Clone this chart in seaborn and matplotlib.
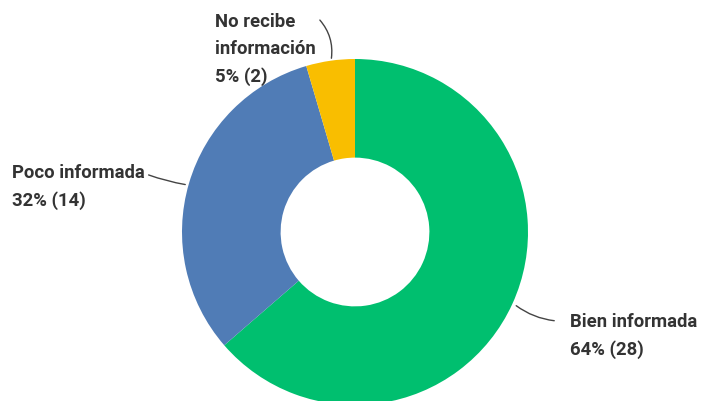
import matplotlib
matplotlib.use("Agg")
import matplotlib.pyplot as plt
import seaborn as sns

# datos
categorias = ["Bien informada", "Poco informada", "No recibe\ninformación"]
valores = [28, 14, 2]
porcentajes = ["64%", "32%", "5%"]
colores = ["#00BF6F", "#507CB6", "#F9BE00"]

sns.set_theme(style="white")
plt.rcParams['font.family'] = ['Roboto', 'DejaVu Sans']

fig = plt.figure(figsize=(7.02, 4.02), dpi=100)
ax = fig.add_axes([0, 0, 1, 1])

H = 402
cx, cy, r = 355, H - 233, 173
ax.pie(valores, colors=colores, startangle=90, counterclock=False,
       center=(cx, cy), radius=r,
       wedgeprops=dict(width=r * 0.57, linewidth=0))
ax.set_xlim(0, 702)
ax.set_ylim(0, H)
ax.set_aspect('equal')
ax.axis('off')

txt = dict(fontsize=13.3, fontweight='bold', color='#333333',
           ha='left', va='top', linespacing=1.65)
etiquetas = [c + "\n" + p + " (" + str(v) + ")" for c, p, v in zip(categorias, porcentajes, valores)]

# Bien informada
ax.text(570, H - 313, etiquetas[0], **txt)
ax.annotate('', xy=(514, H - 305), xytext=(557, H - 322),
            arrowprops=dict(arrowstyle='-', color='#444444', lw=1,
                            connectionstyle='arc3,rad=-0.15'))
# Poco informada
ax.text(12, H - 164, etiquetas[1], **txt)
ax.annotate('', xy=(188, H - 186), xytext=(146, H - 175),
            arrowprops=dict(arrowstyle='-', color='#444444', lw=1,
                            connectionstyle='arc3,rad=0.05'))
# No recibe información
ax.text(215, H - 13, etiquetas[2], **txt)
ax.annotate('', xy=(331, H - 62), xytext=(318, H - 19),
            arrowprops=dict(arrowstyle='-', color='#444444', lw=1,
                            connectionstyle='arc3,rad=-0.25'))

fig.savefig("out.png", dpi=100)
